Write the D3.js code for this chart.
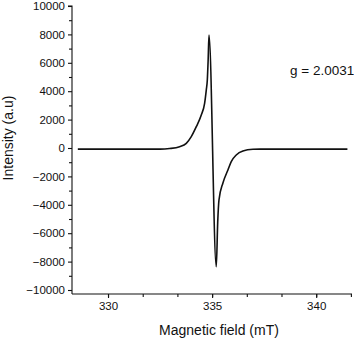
<!DOCTYPE html>
<html>
<head>
<meta charset="utf-8">
<script src="https://cdn.jsdelivr.net/npm/d3@7"></script>
<style>
  body { margin: 0; background: #fff; }
  text { font-family: "Liberation Sans", Arial, sans-serif; fill: #111; }
</style>
</head>
<body>
<div id="chart"></div>
<script>
// Data (mT, a.u.)
const field = [328.55, 330, 331.5, 332.5, 332.96, 333.44, 333.76, 334.0, 334.24, 334.48, 334.64, 334.72, 334.77, 334.81, 334.85, 335.2, 335.27, 335.33, 335.52, 335.76, 335.92, 336.16, 336.48, 336.96, 337.3, 338.5, 340, 341.5]
const intensity = [-80, -80, -80, -80, -40, 90, 330, 800, 1500, 2320, 3150, 4080, 4790, 6200, 7960, -8360, -5200, -3660, -2460, -1550, -960, -490, -210, -90, -80, -80, -80, -80]
const xTicks = [330, 335, 340]
const xMinorTicks = [330, 331.667, 333.333, 335, 336.667, 338.333, 340, 341.667]
const yTicks = [-10000, -8000, -6000, -4000, -2000, 0, 2000, 4000, 6000, 8000, 10000]
const annotation = 'g = 2.0031'

const dataset = field.map((f, i) => ({ f, v: intensity[i] }))

let dimensions = {
  width: 354,
  height: 342,
  margin: { top: 6, bottom: 52, left: 72, right: 4 }
}

const svg = d3.select('#chart')
  .append('svg')
  .attr('width', dimensions.width)
  .attr('height', dimensions.height)

const xScale = d3.scaleLinear()
  .domain([328.27, 341.72])
  .range([dimensions.margin.left, 352])

const yScale = d3.scaleLinear()
  .domain([-10000, 10000])
  .range([290, 6])

// x axis sits a bit below the -10000 tick
const xAxisY = 294

// Curve
const line = d3.line()
  .x(d => xScale(d.f))
  .y(d => yScale(d.v))
  .curve(d3.curveMonotoneX)

svg.append('path')
  .datum(dataset)
  .attr('d', line)
  .attr('fill', 'none')
  .attr('stroke', '#111')
  .attr('stroke-width', 1.6)
  .attr('stroke-linejoin', 'round')

// Y axis
const yAxis = d3.axisLeft(yScale)
  .tickValues(yTicks)
  .tickSize(4)
  .tickPadding(3)
  .tickFormat(d3.format('d'))

const yMinor = d3.axisLeft(yScale)
  .tickValues(d3.range(-9000, 10000, 2000))
  .tickSize(3)
  .tickFormat('')

const yAxisGroup = svg.append('g')
  .attr('transform', `translate(${dimensions.margin.left},0)`)
  .call(yAxis)
svg.append('g')
  .attr('transform', `translate(${dimensions.margin.left},0)`)
  .call(yMinor)
  .select('.domain').remove()

yAxisGroup.select('.domain')
  .attr('d', `M-4,${yScale(10000)}H0V${xAxisY}`)

// X axis
const xAxis = d3.axisBottom(xScale)
  .tickValues(xTicks)
  .tickSize(4)
  .tickPadding(4)
  .tickFormat(d3.format('d'))

const xMinor = d3.axisBottom(xScale)
  .tickValues(xMinorTicks)
  .tickSize(3)
  .tickFormat('')

const xAxisGroup = svg.append('g')
  .attr('transform', `translate(0,${xAxisY})`)
  .call(xAxis)
svg.append('g')
  .attr('transform', `translate(0,${xAxisY})`)
  .call(xMinor)
  .select('.domain').remove()

xAxisGroup.select('.domain')
  .attr('d', `M${dimensions.margin.left},0H352`)

svg.selectAll('.domain, .tick line')
  .attr('stroke', '#111')
  .attr('stroke-width', 1.1)

svg.selectAll('.tick text')
  .style('font-size', '11.5px')
  .attr('fill', '#111')

// Axis titles
svg.append('text')
  .attr('x', 219)
  .attr('y', 335)
  .attr('text-anchor', 'middle')
  .style('font-size', '14px')
  .text('Magnetic field (mT)')

svg.append('text')
  .attr('transform', 'translate(13,138) rotate(-90)')
  .attr('text-anchor', 'middle')
  .style('font-size', '14px')
  .text('Intensity (a.u)')

svg.append('text')
  .attr('x', 290)
  .attr('y', 75)
  .style('font-size', '13.5px')
  .text(annotation)
</script>
</body>
</html>
